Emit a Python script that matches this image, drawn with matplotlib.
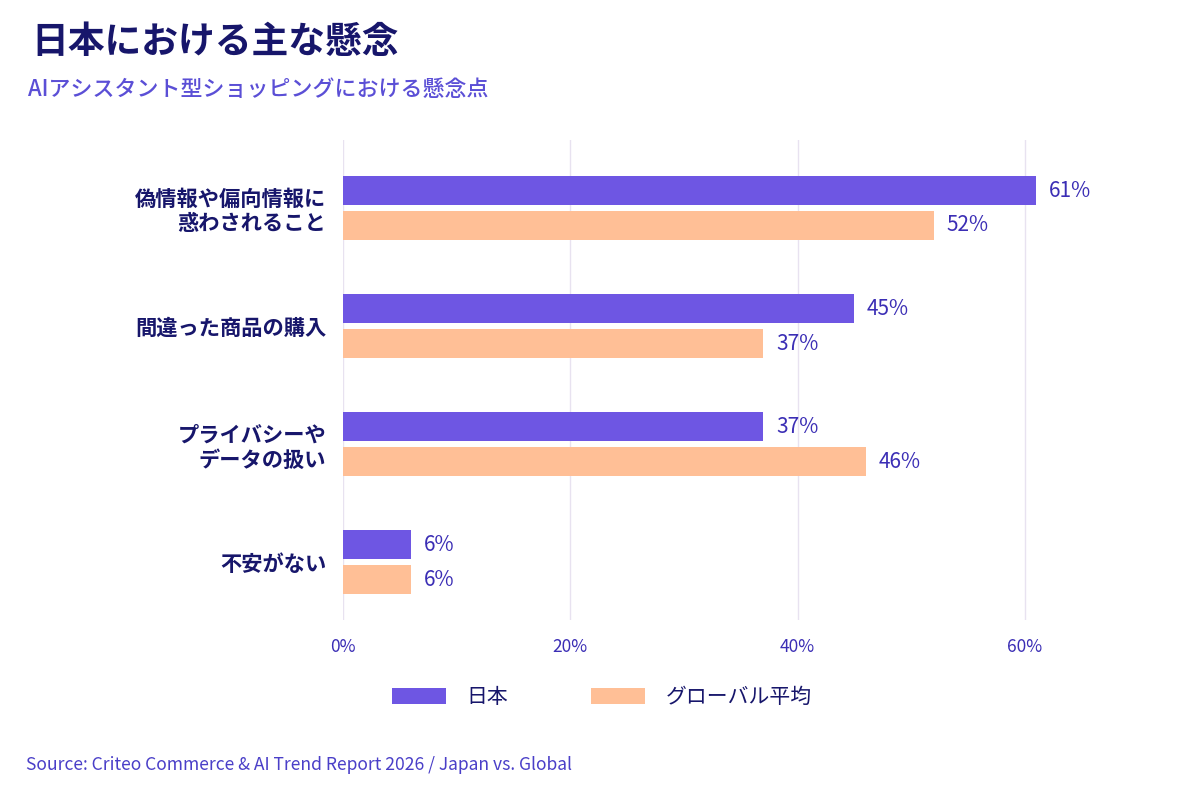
import matplotlib
matplotlib.use("Agg")
import matplotlib.pyplot as plt
import numpy as np
from matplotlib.patches import Patch

plt.rcParams['font.family'] = ['Noto Sans CJK JP', 'DejaVu Sans']

categories = ["偽情報や偏向情報に\n惑わされること", "間違った商品の購入", "プライバシーや\nデータの扱い", "不安がない"]
japan = [61, 45, 37, 6]
global_avg = [52, 37, 46, 6]
series_names = ["日本", "グローバル平均"]
xticks = [0, 20, 40, 60]
xtick_labels = ["0%", "20%", "40%", "60%"]

c_japan = "#6E56E3"
c_global = "#FFBF96"
navy = "#17166B"
indigo = "#3B2EB5"
purple = "#5B4FD6"
grid_c = "#E8E2F0"

fig = plt.figure(figsize=(12, 8), dpi=100)
ax = fig.add_axes([343/1200, 1-620/800, 750/1200, 480/800])

y = np.arange(len(categories))
off = 0.148
h = 0.246
b1 = ax.barh(y - off, japan, height=h, color=c_japan, zorder=3)
b2 = ax.barh(y + off, global_avg, height=h, color=c_global, zorder=3)
for bars in (b1, b2):
    ax.bar_label(bars, labels=[f"{v}%" for v in bars.datavalues], padding=9,
                 fontsize=15, color=indigo)

ax.set_xlim(0, 66)
ax.set_ylim(3.49, -0.576)
ax.set_xticks(xticks)
ax.set_xticklabels(xtick_labels, fontsize=12.5, color=indigo)
ax.set_yticks(y)
ax.set_yticklabels(categories, fontsize=15.3, fontweight='bold', color=navy, linespacing=1.2)
for lbl in ax.get_yticklabels():
    lbl.set_y(lbl.get_position()[1])
ax.tick_params(axis='both', length=0)
ax.tick_params(axis='y', pad=12)
ax.tick_params(axis='x', pad=13)
for s in ax.spines.values():
    s.set_visible(False)
ax.grid(axis='x', color=grid_c, linewidth=1, zorder=0)
ax.set_axisbelow(True)

fig.text(31/1200, 1-42/800, "日本における主な懸念", fontsize=26.5, fontweight='bold',
         color=navy, va='center', ha='left')
fig.text(28/1200, 1-89/800, "AIアシスタント型ショッピングにおける懸念点", fontsize=15.8,
         fontweight='medium', color=purple, va='center', ha='left')
fig.text(26/1200, 1-765/800, "Source: Criteo Commerce & AI Trend Report 2026 / Japan vs. Global",
         fontsize=12.6, color="#4A3FC8", va='center', ha='left')

handles = [Patch(facecolor=c_japan), Patch(facecolor=c_global)]
leg = fig.legend(handles, series_names, loc='center', bbox_to_anchor=(602/1200, 1-697/800),
                 ncol=2, frameon=False, fontsize=15, handlelength=2.55, handleheight=0.8,
                 handletextpad=1.0, columnspacing=4.0)
for t in leg.get_texts():
    t.set_color(navy)

fig.savefig("out.png", dpi=100, facecolor="white")
